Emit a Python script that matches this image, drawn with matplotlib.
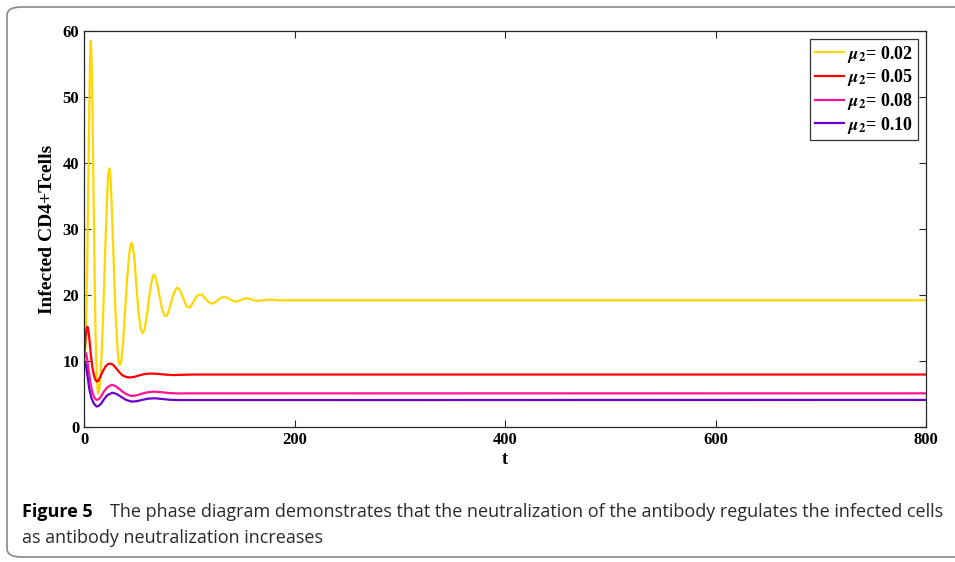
import matplotlib
matplotlib.use("Agg")
import matplotlib.pyplot as plt
from matplotlib.patches import FancyBboxPatch

plt.rcParams['font.family'] = 'Liberation Serif'
plt.rcParams['font.weight'] = 'bold'
plt.rcParams['mathtext.fontset'] = 'stix'

# values (t, infected CD4+ T cells)
t_a = [0, 1, 2, 3, 4, 5, 5.8, 6.4, 7, 8, 9, 10, 11, 12, 13, 13.6, 14.5, 16, 18, 20, 22, 23, 24, 25,
       26, 28, 30, 32, 33, 34.2, 35.5, 37, 39, 41, 43, 44.3, 45.3, 46.3, 48, 50, 52, 54, 55.7, 57.5,
       60, 62, 64, 65.5, 66.5, 67.5, 69.5, 72, 74.5, 76.5, 77.9, 79.5, 82, 84.5, 87, 88.7, 90.5, 93,
       96, 98, 99.8, 101.5, 104, 107, 109, 110.8, 112.5, 115, 118.5, 120.5, 122.2, 124, 127, 130.5,
       133.3, 136, 140, 144, 148, 151, 154.5, 158, 161, 165, 170, 176, 185, 200, 800]
y_a = [10, 11, 15, 24, 36, 48, 56, 58.5, 57, 49, 36, 24, 14, 8, 5.5, 5.1, 5.6, 8.5, 16, 26, 35, 38.3,
       39.2, 38.3, 35, 26, 17, 11.5, 9.9, 9.4, 10, 12.5, 17.5, 22.5, 26.3, 27.6, 27.9, 27.5, 25.3, 21,
       17, 14.8, 14.2, 14.7, 17.2, 19.8, 21.8, 22.9, 23.1, 22.9, 21.8, 19.6, 17.7, 16.9, 16.8, 17.1,
       18.4, 19.9, 20.8, 21.1, 20.9, 20.1, 18.8, 18.2, 18.1, 18.3, 19.0, 19.8, 20.05, 20.1, 20.0, 19.5,
       18.9, 18.75, 18.7, 18.8, 19.2, 19.6, 19.7, 19.6, 19.2, 19.0, 19.15, 19.4, 19.5, 19.4, 19.2,
       19.1, 19.2, 19.3, 19.2, 19.2, 19.2]

t_b = [0, 0.8, 1.6, 2.5, 3.2, 4, 5, 6.5, 8, 9.5, 11, 12, 13.5, 15.5, 18, 21, 23, 25.3, 27.5, 30, 33,
       36, 39.5, 43.7, 48, 52, 57, 63.3, 70, 78, 85, 95, 105, 800]
y_b = [10, 12, 13.8, 14.9, 15.2, 14.8, 13.5, 11, 9, 7.8, 7.1, 6.9, 7.0, 7.6, 8.5, 9.3, 9.55, 9.6,
       9.45, 9.0, 8.4, 7.9, 7.6, 7.5, 7.6, 7.8, 8.0, 8.1, 8.05, 7.93, 7.87, 7.92, 7.95, 7.95]

t_c = [0, 1, 2, 3, 4.5, 6, 8, 10, 12, 14, 16, 19, 22, 26.3, 30, 34, 38, 42, 45.3, 50, 55, 60, 65.9,
       72, 80, 90, 100, 800]
y_c = [10.5, 11.0, 11.2, 10.3, 8.5, 6.8, 5.2, 4.4, 4.1, 4.2, 4.6, 5.4, 6.0, 6.4, 6.2, 5.7, 5.2, 4.85,
       4.7, 4.8, 5.05, 5.25, 5.35, 5.3, 5.15, 5.08, 5.1, 5.1]

t_d = [0, 1, 2, 3.5, 5, 7, 9.5, 12, 14, 16, 19, 22, 27, 31, 35, 40, 45.3, 50, 55, 61, 67.5, 74, 82,
       92, 800]
y_d = [9.7, 9.9, 9.2, 7.5, 5.8, 4.4, 3.5, 3.1, 3.2, 3.5, 4.2, 4.8, 5.2, 5.0, 4.6, 4.1, 3.85, 3.9,
       4.1, 4.3, 4.35, 4.25, 4.12, 4.08, 4.1]

series = [(t_a, y_a, '#FFD700', '0.02'), (t_b, y_b, '#FF0000', '0.05'),
          (t_c, y_c, '#FF1493', '0.08'), (t_d, y_d, '#6A00CC', '0.10')]

fig = plt.figure(figsize=(9.55, 5.62), dpi=100)

# rounded frame around the figure
frame = FancyBboxPatch((7/955, 5/562), 1.05, 550/562, boxstyle="round,pad=0,rounding_size=0.015",
                       transform=fig.transFigure, fill=False, edgecolor='#888888', lw=1.2)
fig.patches.append(frame)

ax = fig.add_axes([84/955, 1-427/562, (926-84)/955, (427-31)/562])
for t, y, c, lab in series:
    ax.plot(t, y, color=c, lw=1.6, label=r'$\boldsymbol{\mu}_{\mathbf{2}}$' + '= ' + lab)

ax.set_xlim(0, 800)
ax.set_ylim(0, 60)
ax.set_xticks([0, 200, 400, 600, 800])
ax.set_yticks([0, 10, 20, 30, 40, 50, 60])
ax.tick_params(direction='in', top=True, right=True, labelsize=12, length=5, width=0.8, colors='#262626', labelcolor='black')
for s in ax.spines.values():
    s.set_color('#262626')
    s.set_linewidth(0.9)
ax.set_xlabel('t', fontsize=13, fontweight='bold', labelpad=2)
ax.set_ylabel('Infected CD4+Tcells', fontsize=14, fontweight='bold', labelpad=5)

leg = ax.legend(loc='upper right', fontsize=13, frameon=True, fancybox=False, handlelength=1.6,
                borderaxespad=0.45, handletextpad=0.2, labelspacing=0.15, borderpad=0.25)
leg.get_frame().set_edgecolor('black')
leg.get_frame().set_linewidth(0.9)
for txt in leg.get_texts():
    txt.set_fontweight('bold')

fig.text(22/955, 1-512/562, 'Figure 5', fontsize=13, fontweight='bold', family='Open Sans', va='center')
fig.text(110/955, 1-512/562,
         'The phase diagram demonstrates that the neutralization of the antibody regulates the infected cells',
         fontsize=13, family='Open Sans', fontweight='normal', va='center', color='#2a2a2a')
fig.text(22/955, 1-538/562, 'as antibody neutralization increases', fontsize=13, family='Open Sans',
         fontweight='normal', va='center', color='#2a2a2a')

fig.savefig('out.png', dpi=100)
